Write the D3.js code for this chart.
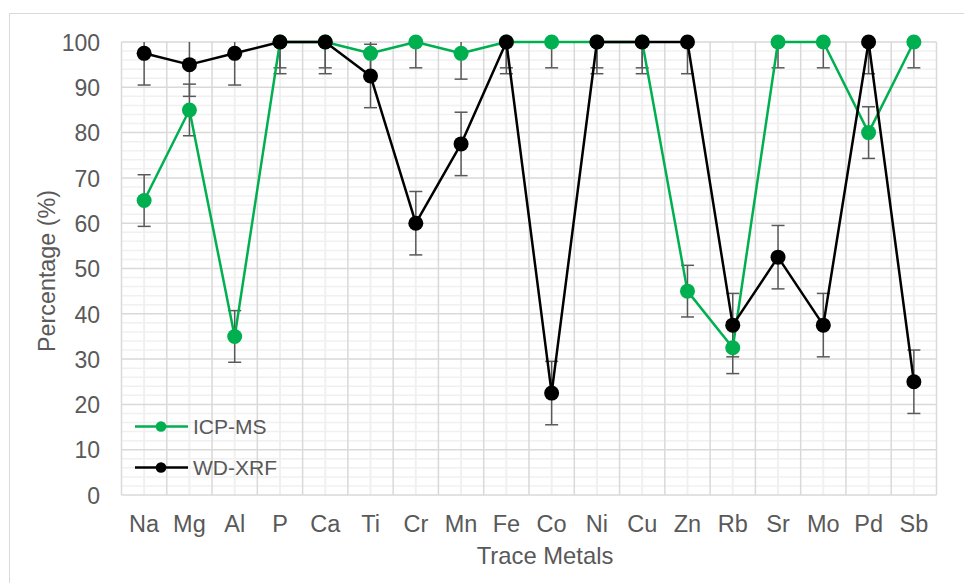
<!DOCTYPE html>
<html>
<head>
<meta charset="utf-8">
<script src="https://cdn.jsdelivr.net/npm/d3@7"></script>
<style>
  html, body { margin: 0; padding: 0; background: #fff; }
  svg { display: block; font-family: "Liberation Sans", Arial, sans-serif; }
</style>
</head>
<body>
<svg id="chart" width="964" height="583"></svg>
<script>
// Detection percentage for each trace metal, by technique
const metals = ["Na","Mg","Al","P","Ca","Ti","Cr","Mn","Fe","Co","Ni","Cu","Zn","Rb","Sr","Mo","Pd","Sb"];
const icpms  = [65, 85, 35, 100, 100, 97.5, 100, 97.5, 100, 100, 100, 100, 45, 32.5, 100, 100, 80, 100];
const wdxrf  = [97.5, 95, 97.5, 100, 100, 92.5, 60, 77.5, 100, 22.5, 100, 100, 100, 37.5, 52.5, 37.5, 100, 25];
const icpmsErr = 5.7;
const wdxrfErr = 7;
const yTicks = [0, 10, 20, 30, 40, 50, 60, 70, 80, 90, 100];
const seriesNames = ["ICP-MS", "WD-XRF"];
const seriesColors = ["#00b050", "#000000"];

const svg = d3.select("#chart");
const plot = { left: 121.5, right: 936.5, top: 42, bottom: 495 };
const textColor = "#595959";

// Outer chart frame
svg.append("rect")
  .attr("x", 9.5).attr("y", 13.5).attr("width", 970).attr("height", 590)
  .attr("fill", "none").attr("stroke", "#d9d9d9").attr("stroke-width", 1);

const x = d3.scaleBand().domain(metals).range([plot.left, plot.right]).padding(0);
const y = d3.scaleLinear().domain([0, 100]).range([plot.bottom, plot.top]);
const cx = m => x(m) + x.bandwidth() / 2;

const grid = svg.append("g");
// Minor horizontal gridlines every 2%
grid.selectAll("line.hmin").data(d3.range(2, 100, 2).filter(v => v % 10 !== 0)).enter()
  .append("line")
  .attr("x1", plot.left).attr("x2", plot.right)
  .attr("y1", d => y(d)).attr("y2", d => y(d))
  .attr("stroke", "#f0f0f0").attr("stroke-width", 1.5);
// Minor vertical gridlines at category centres
grid.selectAll("line.vmin").data(metals).enter()
  .append("line")
  .attr("x1", d => cx(d)).attr("x2", d => cx(d))
  .attr("y1", plot.top).attr("y2", plot.bottom)
  .attr("stroke", "#f0f0f0").attr("stroke-width", 2);
// Major horizontal gridlines
grid.selectAll("line.hmaj").data(yTicks).enter()
  .append("line")
  .attr("x1", plot.left).attr("x2", plot.right)
  .attr("y1", d => y(d)).attr("y2", d => y(d))
  .attr("stroke", "#d9d9d9").attr("stroke-width", 1.5);
// Major vertical gridlines at category boundaries
const bounds = metals.map(m => x(m)).concat([plot.right]);
grid.selectAll("line.vmaj").data(bounds).enter()
  .append("line")
  .attr("x1", d => d).attr("x2", d => d)
  .attr("y1", plot.top).attr("y2", plot.bottom)
  .attr("stroke", "#d9d9d9").attr("stroke-width", 1.5);

// Axis tick labels
const yAxis = d3.axisLeft(y).tickValues(yTicks).tickSize(0).tickPadding(0);
const gy = svg.append("g").attr("transform", `translate(100,0)`).call(yAxis);
gy.select(".domain").remove();
gy.selectAll("text").attr("fill", textColor).attr("font-size", 23).attr("dy", "0.36em")
  .style("font-family", "Liberation Sans, Arial, sans-serif");

const xAxis = d3.axisBottom(x).tickSize(0).tickPadding(0);
const gx = svg.append("g").attr("transform", `translate(0,532)`).call(xAxis);
gx.select(".domain").remove();
gx.selectAll("text").attr("fill", textColor).attr("font-size", 23.5).attr("dy", 0)
  .style("font-family", "Liberation Sans, Arial, sans-serif");

// Axis titles
svg.append("text")
  .attr("transform", `translate(55,271) rotate(-90)`)
  .attr("text-anchor", "middle").attr("fill", textColor).attr("font-size", 23.3)
  .text("Percentage (%)");
svg.append("text")
  .attr("x", 545).attr("y", 564)
  .attr("text-anchor", "middle").attr("fill", textColor).attr("font-size", 23.8)
  .text("Trace Metals");

// Clip marks to plot area vertically
svg.append("clipPath").attr("id", "plotclip").append("rect")
  .attr("x", 0).attr("y", plot.top).attr("width", 964).attr("height", plot.bottom - plot.top);

const series = [
  { name: seriesNames[0], values: icpms, err: icpmsErr, color: seriesColors[0] },
  { name: seriesNames[1], values: wdxrf, err: wdxrfErr, color: seriesColors[1] }
];

const marks = svg.append("g");
// Error bars
series.forEach(s => {
  const g = marks.append("g").attr("clip-path", "url(#plotclip)");
  metals.forEach((m, i) => {
    const v = s.values[i];
    const xc = cx(m);
    const lo = y(v - s.err), hi = y(v + s.err);
    g.append("line").attr("x1", xc).attr("x2", xc).attr("y1", lo).attr("y2", hi)
      .attr("stroke", textColor).attr("stroke-width", 1.5);
    [lo, hi].forEach(yy => g.append("line")
      .attr("x1", xc - 6.5).attr("x2", xc + 6.5).attr("y1", yy).attr("y2", yy)
      .attr("stroke", textColor).attr("stroke-width", 1.5));
  });
});

// Lines and markers
const line = d3.line().x((d, i) => cx(metals[i])).y(d => y(d));
series.forEach(s => {
  marks.append("path").datum(s.values).attr("d", line)
    .attr("fill", "none").attr("stroke", s.color).attr("stroke-width", 2.5)
    .attr("stroke-linejoin", "round");
  marks.selectAll(null).data(s.values).enter().append("circle")
    .attr("cx", (d, i) => cx(metals[i])).attr("cy", d => y(d)).attr("r", 7.5)
    .attr("fill", s.color);
});

// Legend
const legend = svg.append("g");
series.forEach((s, i) => {
  const ly = 426.5 + i * 41;
  legend.append("line").attr("x1", 135).attr("x2", 188).attr("y1", ly).attr("y2", ly)
    .attr("stroke", s.color).attr("stroke-width", 2.5);
  legend.append("circle").attr("cx", 161).attr("cy", ly).attr("r", 5.3).attr("fill", s.color);
  legend.append("text").attr("x", 193).attr("y", ly).attr("dy", "0.36em")
    .attr("fill", textColor).attr("font-size", 21).text(s.name);
});
</script>
</body>
</html>
